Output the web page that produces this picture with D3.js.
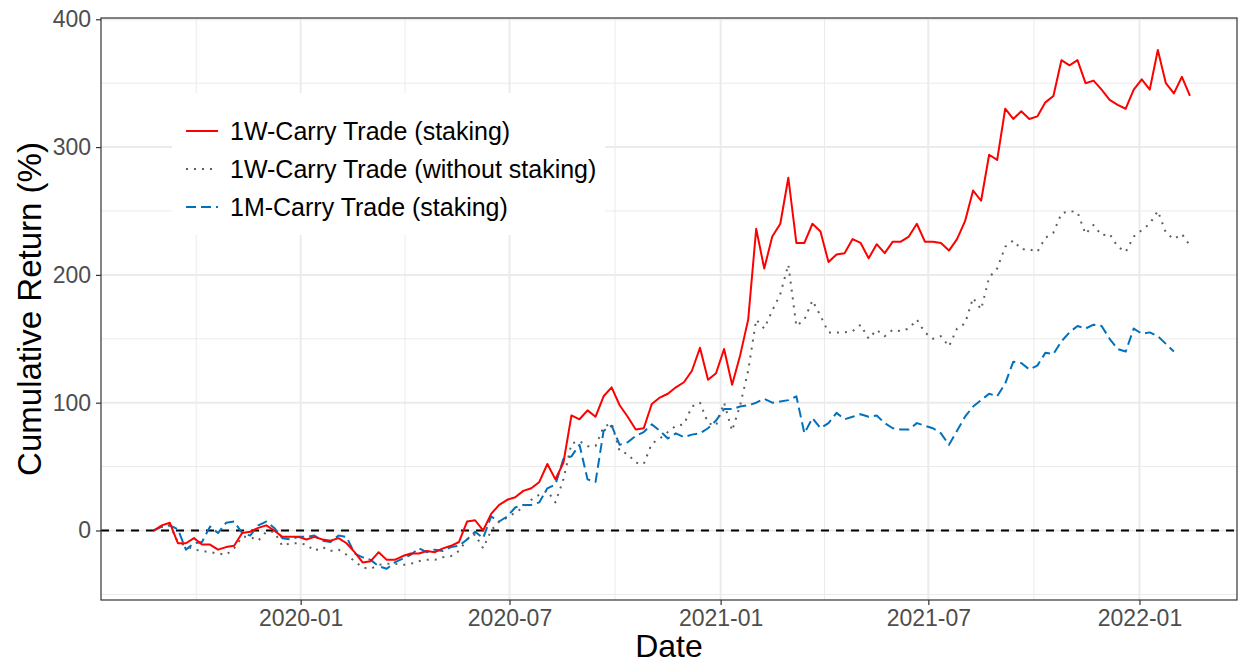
<!DOCTYPE html>
<html><head><meta charset="utf-8">
<script src="https://cdn.jsdelivr.net/npm/d3@7/dist/d3.min.js"></script>
<style>body{margin:0;background:#fff}svg{display:block}text{font-family:"Liberation Sans",Arial,sans-serif}</style>
</head><body><svg id="c" width="1239" height="665"></svg>
<script>
// ---- data (weekly observations starting at startDate) ----
const startDate = "2019-08-26";
const stepDays = 7;
const seriesNames = ["1W-Carry Trade (staking)", "1W-Carry Trade (without staking)", "1M-Carry Trade (staking)"];
const red = [0,4,6,-10,-10,-6,-11,-11,-15,-13,-12,-2,-1,2,4,0,-5,-5,-5,-7,-5,-7,-8,-6,-10,-17,-25,-24,-17,-23,
  -23,-20,-18,-18,-16,-17,-14,-12,-9,7,8,0,13,20,24,26,31,33,38,52,40,53,90,87,94,89,105,112,98,89,
  79,80,99,104,107,112,116,125,143,118,123,142,114,137,165,236,205,230,240,276,225,225,240,234,210,216,217,228,225,213,
  224,217,226,226,230,240,226,226,225,219,228,242,266,258,294,290,330,322,328,322,324,335,340,368,364,368,350,352,345,337,
  333,330,345,353,345,376,350,342,355,340];
const gray = [0,3,4,-9,-12,-15,-16,-17,-18,-19,-14,-5,-5,-8,-1,-1,-12,-10,-10,-11,-16,-13,-16,-15,-19,-24,-29,-30,-27,-26,
  -26,-27,-26,-24,-23,-23,-21,-20,-16,-7,-3,-14,0,7,10,14,18,24,28,31,22,40,68,70,66,66,81,84,62,60,
  53,52,68,72,77,82,83,97,100,84,82,100,78,98,125,165,158,172,185,208,160,165,180,168,155,155,155,156,161,150,
  157,152,157,156,158,165,155,150,152,144,158,162,182,173,198,205,222,227,220,220,218,229,233,248,250,249,232,239,231,232,
  222,218,230,235,240,250,233,228,232,223];
const blue = [0,3,4,1,-15,-10,-9,3,-2,6,7,-2,-4,4,7,2,-6,-7,-5,-5,-4,-8,-9,-4,-5,-18,-21,-23,-28,-30,
  -25,-22,-19,-14,-17,-15,-16,-13,-12,-7,-1,-6,11,7,11,18,20,20,22,33,36,56,58,67,40,38,78,82,67,69,
  74,77,83,78,72,76,73,75,76,80,86,95,95,97,98,100,103,100,101,102,105,76,88,80,84,92,87,89,91,89,
  90,84,80,79,79,84,82,80,76,67,78,89,97,102,107,105,115,132,131,126,129,139,138,148,155,160,158,161,160,150,
  142,140,158,154,155,152,146,140,null,null];
const yTicks = [0, 100, 200, 300, 400];
const yMinor = [-50, 50, 150, 250, 350];
const xTickLabels = ["2020-01", "2020-07", "2021-01", "2021-07", "2022-01"];
const xDomain = ["2019-07-11", "2022-03-27"];
const yDomain = [-54.4, 401];
const colors = ["#FF0000", "#5E5E5E", "#0072BD"];
const dashes = [null, "2,6", "10,5"];

// ---- layout ----
const svg = d3.select("#c");
const L = 101, R = 1237, T = 18, B = 600;
const parse = d3.utcParse("%Y-%m-%d");
const parseYM = d3.utcParse("%Y-%m");
const x = d3.scaleUtc().domain(xDomain.map(parse)).range([L, R]);
const y = d3.scaleLinear().domain(yDomain).range([B, T]);
const t0 = parse(startDate);
const dates = red.map((_, i) => d3.utcDay.offset(t0, i * stepDays));
const xMajor = xTickLabels.map(parseYM);
const xMinor = [];
xMinor.push(new Date(+xMajor[0] - (xMajor[1] - xMajor[0]) / 2));
for (let i = 0; i < xMajor.length - 1; i++) xMinor.push(new Date((+xMajor[i] + +xMajor[i + 1]) / 2));
xMinor.push(new Date(+xMajor[xMajor.length - 1] + (xMajor[xMajor.length - 1] - xMajor[xMajor.length - 2]) / 2));

const g = svg.append("g");
g.append("rect").attr("x", L).attr("y", T).attr("width", R - L).attr("height", B - T).attr("fill", "#fff");
// grid
const clipped = xMinor.filter(d => x(d) > L && x(d) < R);
g.selectAll(".gxm").data(clipped).join("line").attr("x1", d => x(d)).attr("x2", d => x(d)).attr("y1", T).attr("y2", B)
  .attr("stroke", "#EBEBEB").attr("stroke-width", 1);
g.selectAll(".gym").data(yMinor).join("line").attr("x1", L).attr("x2", R).attr("y1", d => y(d)).attr("y2", d => y(d))
  .attr("stroke", "#EBEBEB").attr("stroke-width", 1);
g.selectAll(".gx").data(xMajor).join("line").attr("x1", d => x(d)).attr("x2", d => x(d)).attr("y1", T).attr("y2", B)
  .attr("stroke", "#EBEBEB").attr("stroke-width", 2);
g.selectAll(".gy").data(yTicks).join("line").attr("x1", L).attr("x2", R).attr("y1", d => y(d)).attr("y2", d => y(d))
  .attr("stroke", "#EBEBEB").attr("stroke-width", 2);

// zero line
g.append("line").attr("x1", L).attr("x2", R).attr("y1", y(0)).attr("y2", y(0))
  .attr("stroke", "#000").attr("stroke-width", 2).attr("stroke-dasharray", "8,7");

// series
const line = d3.line().defined(d => d[1] != null).x(d => x(d[0])).y(d => y(d[1]));
const allSeries = [red, gray, blue];
[2, 1, 0].forEach(k => {
  g.append("path").datum(allSeries[k].map((v, i) => [dates[i], v]))
    .attr("d", line).attr("fill", "none").attr("stroke", colors[k]).attr("stroke-width", 2)
    .attr("stroke-linejoin", "round")
    .attr("stroke-dasharray", dashes[k]);
});

// panel border
g.append("rect").attr("x", L).attr("y", T).attr("width", R - L).attr("height", B - T)
  .attr("fill", "none").attr("stroke", "#333").attr("stroke-width", 1.2);

// axes
const xAxis = d3.axisBottom(x).tickValues(xMajor).tickFormat(d3.utcFormat("%Y-%m")).tickSize(5).tickPadding(5);
const yAxis = d3.axisLeft(y).tickValues(yTicks).tickSize(5).tickPadding(5);
const gx = svg.append("g").attr("transform", `translate(0,${B})`).call(xAxis);
const gy = svg.append("g").attr("transform", `translate(${L},0)`).call(yAxis);
[gx, gy].forEach(a => {
  a.select(".domain").remove();
  a.selectAll(".tick line").attr("stroke", "#333").attr("stroke-width", 1.2);
  a.selectAll(".tick text").attr("fill", "#4D4D4D").style("font-size", "23px");
});

// axis titles
svg.append("text").attr("x", (L + R) / 2).attr("y", 657).attr("text-anchor", "middle")
  .style("font-size", "32px").attr("fill", "#000").text("Date");
svg.append("text").attr("transform", `translate(41,${(T + B) / 2}) rotate(-90)`).attr("text-anchor", "middle")
  .style("font-size", "33px").attr("fill", "#000").text("Cumulative Return (%)");

// legend
const lg = svg.append("g");
lg.append("rect").attr("x", 172).attr("y", 93).attr("width", 433).attr("height", 142).attr("fill", "#fff");
const ly = [131, 169, 207];
seriesNames.forEach((n, k) => {
  lg.append("line").attr("x1", 186).attr("x2", 218).attr("y1", ly[k]).attr("y2", ly[k])
    .attr("stroke", colors[k]).attr("stroke-width", 2).attr("stroke-dasharray", dashes[k]);
  lg.append("text").attr("x", 230).attr("y", ly[k]).attr("dy", "0.36em").style("font-size", "25px")
    .attr("fill", "#000").text(n);
});
</script></body></html>
